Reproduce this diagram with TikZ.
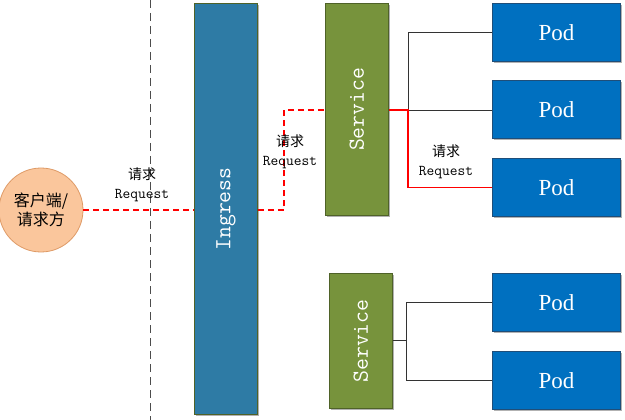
\documentclass[tikz,border=0pt]{standalone}
\usepackage{fontspec}
\setmainfont{Liberation Serif}
\newfontfamily\cjk{Noto Sans CJK SC}
\newcommand\monof{\ttfamily}
\usetikzlibrary{shadows}
\definecolor{ingfill}{HTML}{2E7BA5}
\definecolor{svcfill}{HTML}{77933C}
\definecolor{svcdraw}{HTML}{4F6228}
\definecolor{podfill}{HTML}{0070C0}
\definecolor{poddraw}{HTML}{1F4E79}
\definecolor{cfill}{HTML}{FAC69C}
\definecolor{cdraw}{HTML}{DE9A66}
\definecolor{reqred}{HTML}{FF0000}
\tikzset{
  sh/.style={drop shadow={shadow xshift=2pt, shadow yshift=-2pt, opacity=0.3, fill=black}},
  ingbox/.style={sh, draw=svcdraw, fill=ingfill, line width=0.9pt, anchor=north west, inner sep=0pt},
  svcbox/.style={sh, draw=svcdraw, fill=svcfill, line width=0.9pt, anchor=north west, inner sep=0pt},
  podbox/.style={sh, draw=poddraw, fill=podfill, line width=0.9pt, anchor=north west, inner sep=0pt,
    minimum width=128pt, minimum height=58pt, text=white, font=\fontsize{23}{25}\selectfont},
  vlabel/.style={rotate=90, text=white, font=\monof\fontsize{23}{25}\selectfont},
  reqlabel/.style={align=center, inner sep=0pt, font=\fontsize{14}{19}\selectfont},
  reqline/.style={draw=reqred, line width=1.6pt, dash pattern=on 6pt off 4pt},
  redline/.style={draw=reqred, line width=1.4pt},
  link/.style={draw=black!80, line width=0.7pt},
  sep/.style={draw=black!70, line width=0.8pt, dash pattern=on 8pt off 5pt}
}
\begin{document}
\begin{tikzpicture}[x=1pt,y=-1pt]
\useasboundingbox (0,0) rectangle (625,420);
% separator
\coordinate (vt) at (150,0);
\coordinate (vb) at (150,420);
\draw[sep] (vt) -- (vb);
% client
\node[circle, draw=cdraw, fill=cfill, line width=0.8pt, minimum size=84pt, inner sep=0pt,
  align=center, font=\cjk\fontsize{16}{19.5}\selectfont] (client) at (41,210) {客户端/\\请求方};
% ingress
\node[ingbox, minimum width=63pt, minimum height=411pt] (ing) at (194,3) {};
\node[vlabel] (ingt) at (ing.center) {Ingress};
% services
\node[svcbox, minimum width=63pt, minimum height=212pt] (svc1) at (325,3) {};
\node[vlabel] (svc1t) at (svc1.center) {Service};
\node[svcbox, minimum width=63pt, minimum height=135pt] (svc2) at (329,273) {};
\node[vlabel] (svc2t) at (svc2.center) {Service};
% pods
\node[podbox] (p1) at (492,3) {Pod};
\node[podbox] (p2) at (492,80) {Pod};
\node[podbox] (p3) at (492,158) {Pod};
\node[podbox] (p4) at (492,273) {Pod};
\node[podbox] (p5) at (492,351) {Pod};
% request path
\coordinate (k) at (284,110);
\draw[reqline] (client.east) -- (client.east -| ing.west);
\draw[reqline] (client.east -| ing.east) -| (k) -- (k -| svc1.west);
% service 1 fan-out
\coordinate (s1j) at (408,110);
\draw[link] (s1j) |- (p1.west);
\draw[link] (s1j) -- (s1j -| p2.west);
\draw[redline] (s1j -| svc1.east) -- (s1j) |- (p3.west);
% service 2 fan-out
\coordinate (s2j) at (406,340.5);
\draw[link] (s2j -| svc2.east) -- (s2j);
\draw[link] (s2j) |- (p4.west);
\draw[link] (s2j) |- (p5.west);
% labels
\node[reqlabel] (l1) at (142,185) {{\cjk 请求}\\{\monof\fontsize{15}{16}\selectfont Request}};
\node[reqlabel] (l2) at (290,152) {{\cjk 请求}\\{\monof\fontsize{15}{16}\selectfont Request}};
\node[reqlabel] (l3) at (446,162) {{\cjk 请求}\\{\monof\fontsize{15}{16}\selectfont Request}};
\end{tikzpicture}
\end{document}
